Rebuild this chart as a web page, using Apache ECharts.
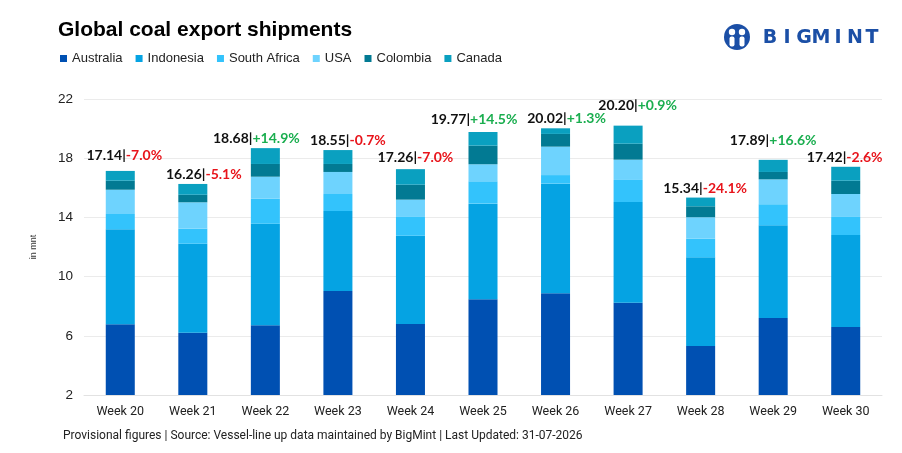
<!DOCTYPE html>
<html>
<head>
<meta charset="utf-8">
<script src="https://cdn.jsdelivr.net/npm/echarts@6/dist/echarts.min.js"></script>
<style>html,body{margin:0;padding:0;background:#fff;}#c{width:902px;height:453px;}</style>
</head>
<body>
<div id="c"></div>
<script>
const categories = ['Week 20','Week 21','Week 22','Week 23','Week 24','Week 25','Week 26','Week 27','Week 28','Week 29','Week 30'];
const australia   = [6.78, 6.21, 6.71, 9.03, 6.80, 8.47, 8.87, 8.24, 5.31, 7.20, 6.59];
const indonesia   = [6.42, 6.01, 6.86, 5.40, 5.96, 6.46, 7.41, 6.80, 5.99, 6.27, 6.22];
const southAfrica = [1.03, 1.02, 1.69, 1.15, 1.27, 1.51, 0.58, 1.49, 1.26, 1.42, 1.22];
const usa         = [1.64, 1.78, 1.49, 1.49, 1.17, 1.15, 1.92, 1.37, 1.45, 1.68, 1.55];
const colombia    = [0.61, 0.51, 0.86, 0.54, 1.01, 1.26, 0.86, 1.08, 0.74, 0.50, 0.90];
const canada      = [0.66, 0.73, 1.07, 0.94, 1.05, 0.92, 0.38, 1.22, 0.59, 0.82, 0.94];
const totals      = ['17.14','16.26','18.68','18.55','17.26','19.77','20.02','20.20','15.34','17.89','17.42'];
const changes     = ['-7.0%','-5.1%','+14.9%','-0.7%','-7.0%','+14.5%','+1.3%','+0.9%','-24.1%','+16.6%','-2.6%'];
const yTicks      = [2, 6, 10, 14, 18, 22];

const colors = ['#0050B2','#05A3E3','#33C3FC','#6ED3FE','#027A93','#0AA0C0'];
const names = ['Australia','Indonesia','South Africa','USA','Colombia','Canada'];
const seriesData = [australia, indonesia, southAfrica, usa, colombia, canada];

// label placement tweaks (styling only): horizontal nudge and lift above bar
const nudgeX = function(i){ return ({0:4, 1:11, 2:-9, 3:10, 4:5, 5:-9, 6:11, 7:9.5, 8:4.5, 10:-1})[i] || 0; };
const liftFor = function(i){ return ({0:8, 4:4.5, 5:5.5, 7:13.5, 9:12})[i] || 2.5; };

const series = seriesData.map(function(arr, si){
  const s = {
    name: names[si], type: 'bar', stack: 'total', barWidth: '40%',
    itemStyle: {color: colors[si]},
    emphasis: {disabled: true},
    data: arr.slice()
  };
  if (si === seriesData.length - 1) {
    s.data = arr.map(function(v, i){
      return {value: v, label: {show: true, position: 'top', distance: liftFor(i), offset: [nudgeX(i), 0],
        formatter: '{a|' + totals[i] + '|}{' + (changes[i].charAt(0) === '-' ? 'r' : 'g') + '|' + changes[i] + '}',
        rich: {
          a: {color: '#111', fontFamily: 'Lato', fontWeight: 'bold', fontSize: 14},
          r: {color: '#E8141B', fontFamily: 'Lato', fontWeight: 'bold', fontSize: 14},
          g: {color: '#1AAE4F', fontFamily: 'Lato', fontWeight: 'bold', fontSize: 14}
        }}};
    });
  }
  return s;
});

const logoLetters = 'BIGMINT'.split('');
const graphics = [
  {type: 'circle', shape: {cx: 737, cy: 37, r: 13}, style: {fill: '#1B4FA6'}},
  {type: 'circle', shape: {cx: 732, cy: 32, r: 3.2}, style: {fill: '#fff'}},
  {type: 'circle', shape: {cx: 742, cy: 32, r: 3.2}, style: {fill: '#fff'}},
  {type: 'rect', shape: {x: 729.5, y: 36.5, width: 5, height: 10, r: 2}, style: {fill: '#fff'}},
  {type: 'rect', shape: {x: 739.5, y: 36.5, width: 5, height: 10, r: 2}, style: {fill: '#fff'}},
  {type: 'rect', shape: {x: 735.5, y: 40, width: 3, height: 7}, style: {fill: '#1B4FA6'}}
].concat(logoLetters.map(function(ch, i){
  return {type: 'text', x: 770 + i * 17, y: 38,
    style: {text: ch, fill: '#1B4FA6', font: 'bold 19px "DejaVu Sans"', align: 'center', verticalAlign: 'middle'}};
}));

const chart = echarts.init(document.getElementById('c'), null, {renderer: 'canvas'});
chart.setOption({
  animation: false,
  backgroundColor: '#fff',
  title: [
    {text: 'Global coal export shipments', left: 53, top: 15,
      textStyle: {fontFamily: 'Liberation Sans', fontWeight: 'bold', fontSize: 21, color: '#000'}},
    {text: 'Provisional figures | Source: Vessel-line up data maintained by BigMint | Last Updated: 31-07-2026',
      left: 58, top: 425, textStyle: {fontFamily: 'Roboto', fontWeight: 'normal', fontSize: 12, color: '#222'}}
  ],
  legend: {
    left: 55, top: 47, itemWidth: 7, itemHeight: 7, itemGap: 13, icon: 'rect',
    textStyle: {fontFamily: 'Liberation Sans', fontSize: 13, color: '#222'},
    data: names
  },
  graphic: graphics,
  grid: {left: 84, right: 20, top: 99, bottom: 58},
  xAxis: {
    type: 'category', data: categories,
    axisLine: {lineStyle: {color: '#E2E2E2'}},
    axisTick: {show: false},
    axisLabel: {fontFamily: 'Roboto', fontSize: 12.5, color: '#222', margin: 10}
  },
  yAxis: {
    type: 'value', min: yTicks[0], max: yTicks[yTicks.length - 1], interval: 4,
    name: 'in mnt', nameLocation: 'middle', nameGap: 46, nameRotate: 90,
    nameTextStyle: {fontFamily: 'Liberation Sans', fontSize: 9, color: '#333'},
    axisLine: {show: false}, axisTick: {show: false},
    axisLabel: {fontFamily: 'Liberation Sans', fontSize: 13.5, color: '#222', margin: 11},
    splitLine: {lineStyle: {color: '#EBEBEB'}}
  },
  series: series
});
</script>
</body>
</html>
